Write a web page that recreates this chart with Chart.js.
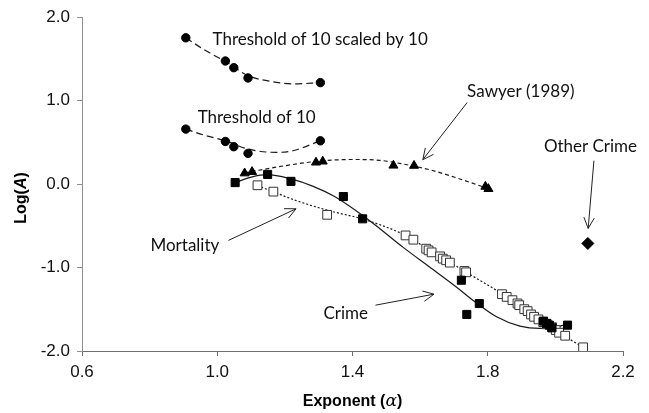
<!DOCTYPE html>
<html>
<head>
<meta charset="utf-8">
<script src="https://cdn.jsdelivr.net/npm/chart.js@4"></script>
<style>
  body { margin: 0; background: #fff; }
  #wrap { width: 649px; height: 413px; position: relative; }
</style>
</head>
<body>
<div id="wrap"><canvas id="powerChart"></canvas></div>
<script>
// axis ticks
const xTicks = [0.6, 1.0, 1.4, 1.8, 2.2];
const yTicks = [-2, -1, 0, 1, 2];

// threshold series (filled circles)
const threshAlpha = [0.907, 1.024, 1.049, 1.091, 1.305];
const threshScaledLogA = [1.753, 1.475, 1.395, 1.272, 1.216];
const threshLogA = [0.659, 0.511, 0.448, 0.368, 0.519];

// Sawyer (1989) - triangles
const sawyerAlpha = [1.081, 1.103, 1.292, 1.312, 1.521, 1.582, 1.793, 1.802];
const sawyerLogA = [0.130, 0.147, 0.260, 0.272, 0.223, 0.221, -0.030, -0.057];

// Crime - filled squares
const crimeAlpha = [1.053, 1.149, 1.218, 1.373, 1.430, 1.722, 1.738, 1.775, 1.965, 1.974, 1.982, 1.990, 2.036];
const crimeLogA = [0.018, 0.116, 0.033, -0.149, -0.416, -1.152, -1.562, -1.431, -1.642, -1.669, -1.690, -1.722, -1.690];

// Mortality - open squares
const mortAlpha = [1.119, 1.166, 1.325, 1.557, 1.580, 1.618, 1.625, 1.634, 1.659, 1.667, 1.677, 1.688,
                   1.731, 1.736, 1.842, 1.856, 1.873, 1.888, 1.893, 1.908, 1.918, 1.928, 1.937, 1.950,
                   1.964, 1.975, 1.990, 2.001, 2.011, 2.029, 2.082];
const mortLogA = [-0.014, -0.090, -0.368, -0.615, -0.666, -0.774, -0.794, -0.818, -0.866, -0.893, -0.913, -0.941,
                  -1.041, -1.057, -1.319, -1.352, -1.391, -1.430, -1.451, -1.499, -1.522, -1.562, -1.590, -1.621,
                  -1.654, -1.680, -1.715, -1.749, -1.781, -1.817, -1.956];

// Other crime - diamond
const otherAlpha = [2.096];
const otherLogA = [-0.711];

// trend curves
const threshCurveAlpha = [0.907, 0.968, 1.024, 1.091, 1.175, 1.224, 1.305];
const threshScaledCurveLogA = [1.753, 1.594, 1.470, 1.300, 1.220, 1.200, 1.216];
const threshCurveLogA = [0.659, 0.579, 0.520, 0.420, 0.380, 0.400, 0.519];
const sawyerCurveAlpha = [1.081, 1.20, 1.30, 1.40, 1.48, 1.55, 1.63, 1.70, 1.802];
const sawyerCurveLogA = [0.135, 0.220, 0.275, 0.295, 0.285, 0.240, 0.170, 0.085, -0.055];
const crimeCurveAlpha = [1.053, 1.101, 1.148, 1.218, 1.282, 1.347, 1.430, 1.480, 1.548, 1.628, 1.707,
                         1.756, 1.826, 1.895, 1.954, 1.993, 2.036];
const crimeCurveLogA = [0.018, 0.084, 0.113, 0.062, -0.024, -0.149, -0.376, -0.531, -0.752, -0.993, -1.232,
                        -1.391, -1.590, -1.701, -1.729, -1.717, -1.678];
const mortCurveAlpha = [1.119, 1.164, 1.233, 1.332, 1.431, 1.549, 1.628, 1.727, 1.856, 1.937, 2.011, 2.082];
const mortCurveLogA = [-0.018, -0.090, -0.197, -0.320, -0.420, -0.600, -0.790, -1.033, -1.352, -1.590, -1.781, -1.956];

// labels and arrows, in data units
const noteTexts = ['Threshold of 10 scaled by 10', 'Threshold of 10', 'Sawyer (1989)', 'Other Crime', 'Mortality', 'Crime'];
const noteAlpha = [0.986, 0.942, 1.739, 1.966, 1.006, 1.314];
const noteLogA = [1.734, 0.798, 1.108, 0.448, -0.734, -1.546];
const noteAlign = ['left', 'left', 'left', 'left', 'right', 'left'];
const arrowFrom = [[1.739, 0.977], [2.114, 0.281], [1.033, -0.675], [1.468, -1.451]];
const arrowTo = [[1.608, 0.293], [2.097, -0.531], [1.233, -0.296], [1.641, -1.319]];

const pts = (xs, ys) => xs.map((x, i) => ({ x: x, y: ys[i] }));

const markerSet = (data, style, radius, fill) => ({
    data: data,
    pointStyle: style,
    pointRadius: radius,
    pointBackgroundColor: fill,
    pointBorderColor: fill === '#fff' ? '#333' : '#000',
    pointBorderWidth: 1,
    showLine: false
});

const curve = (data, dash) => ({
    data: data,
    showLine: true,
    pointRadius: 0,
    borderColor: '#1a1a1a',
    borderWidth: 1.2,
    borderDash: dash,
    cubicInterpolationMode: 'monotone',
    fill: false
});

const notesPlugin = {
    id: 'notes',
    afterDatasetsDraw(chart) {
        const ctx = chart.ctx;
        const xs = chart.scales.x, ys = chart.scales.y;
        ctx.save();
        ctx.fillStyle = '#111';
        ctx.font = '17px Lato';
        ctx.textBaseline = 'middle';
        noteTexts.forEach((t, i) => {
            ctx.textAlign = noteAlign[i];
            ctx.fillText(t, xs.getPixelForValue(noteAlpha[i]), ys.getPixelForValue(noteLogA[i]));
        });
        ctx.strokeStyle = '#222';
        ctx.lineWidth = 1;
        arrowFrom.forEach((f, i) => {
            const x1 = xs.getPixelForValue(f[0]), y1 = ys.getPixelForValue(f[1]);
            const x2 = xs.getPixelForValue(arrowTo[i][0]), y2 = ys.getPixelForValue(arrowTo[i][1]);
            const a = Math.atan2(y2 - y1, x2 - x1);
            ctx.beginPath();
            ctx.moveTo(x1, y1);
            ctx.lineTo(x2, y2);
            ctx.moveTo(x2 - 12 * Math.cos(a - 0.45), y2 - 12 * Math.sin(a - 0.45));
            ctx.lineTo(x2, y2);
            ctx.lineTo(x2 - 12 * Math.cos(a + 0.45), y2 - 12 * Math.sin(a + 0.45));
            ctx.stroke();
        });

        // axis titles with italic symbols
        const drawParts = (parts, cx, cy) => {
            let total = 0;
            parts.forEach(p => { ctx.font = p[1]; total += ctx.measureText(p[0]).width; });
            let x = cx - total / 2;
            ctx.textAlign = 'left';
            parts.forEach(p => {
                ctx.font = p[1];
                ctx.fillText(p[0], x, cy);
                x += ctx.measureText(p[0]).width;
            });
        };
        ctx.fillStyle = '#000';
        const area = chart.chartArea;
        drawParts([['Exponent (', 'bold 16px "Liberation Sans"'], ['α', 'italic 17px "DejaVu Serif"'], [')', 'bold 16px "Liberation Sans"']],
            (area.left + area.right) / 2, 402);
        ctx.translate(22, 198);
        ctx.rotate(-Math.PI / 2);
        drawParts([['Log(', 'bold 16px "Liberation Sans"'], ['A', 'bold italic 16px "Liberation Sans"'], [')', 'bold 16px "Liberation Sans"']], 0, 0);
        ctx.restore();
    }
};

new Chart(document.getElementById('powerChart'), {
    type: 'scatter',
    data: {
        datasets: [
            markerSet(pts(otherAlpha, otherLogA), 'rectRot', 6, '#000'),
            markerSet(pts(crimeAlpha, crimeLogA), 'rect', 5.7, '#000'),
            markerSet(pts(mortAlpha, mortLogA), 'rect', 6.2, '#fff'),
            markerSet(pts(sawyerAlpha, sawyerLogA), 'triangle', 5.2, '#000'),
            markerSet(pts(threshAlpha, threshScaledLogA), 'circle', 4.2, '#000'),
            markerSet(pts(threshAlpha, threshLogA), 'circle', 4.2, '#000'),
            curve(pts(crimeCurveAlpha, crimeCurveLogA), []),
            curve(pts(mortCurveAlpha, mortCurveLogA), [2, 2]),
            curve(pts(sawyerCurveAlpha, sawyerCurveLogA), [4, 3]),
            curve(pts(threshCurveAlpha, threshScaledCurveLogA), [7, 4]),
            curve(pts(threshCurveAlpha, threshCurveLogA), [7, 4])
        ]
    },
    options: {
        responsive: true,
        maintainAspectRatio: false,
        animation: false,
        layout: { padding: { top: 16, right: 26, left: 0, bottom: 0 } },
        plugins: {
            legend: { display: false },
            tooltip: { enabled: false }
        },
        scales: {
            x: {
                type: 'linear',
                min: 0.6,
                max: 2.2,
                afterBuildTicks: s => { s.ticks = xTicks.map(v => ({ value: v })); },
                afterFit: s => { s.height = 62; },
                border: { color: '#6e6e6e', width: 1 },
                grid: { drawOnChartArea: false, drawTicks: true, tickLength: 5, color: '#6e6e6e' },
                ticks: {
                    padding: 6,
                    color: '#111',
                    font: { family: 'Liberation Sans', size: 17 },
                    callback: v => v.toFixed(1)
                }
            },
            y: {
                type: 'linear',
                min: -2,
                max: 2,
                afterBuildTicks: s => { s.ticks = yTicks.map(v => ({ value: v })); },
                afterFit: s => { s.width = 82; },
                border: { color: '#8f8f8f', width: 1 },
                grid: { drawOnChartArea: false, drawTicks: true, tickLength: 5, color: '#8f8f8f' },
                ticks: {
                    padding: 7,
                    color: '#111',
                    font: { family: 'Liberation Sans', size: 17 },
                    callback: v => v.toFixed(1)
                }
            }
        }
    },
    plugins: [notesPlugin]
});
</script>
</body>
</html>
